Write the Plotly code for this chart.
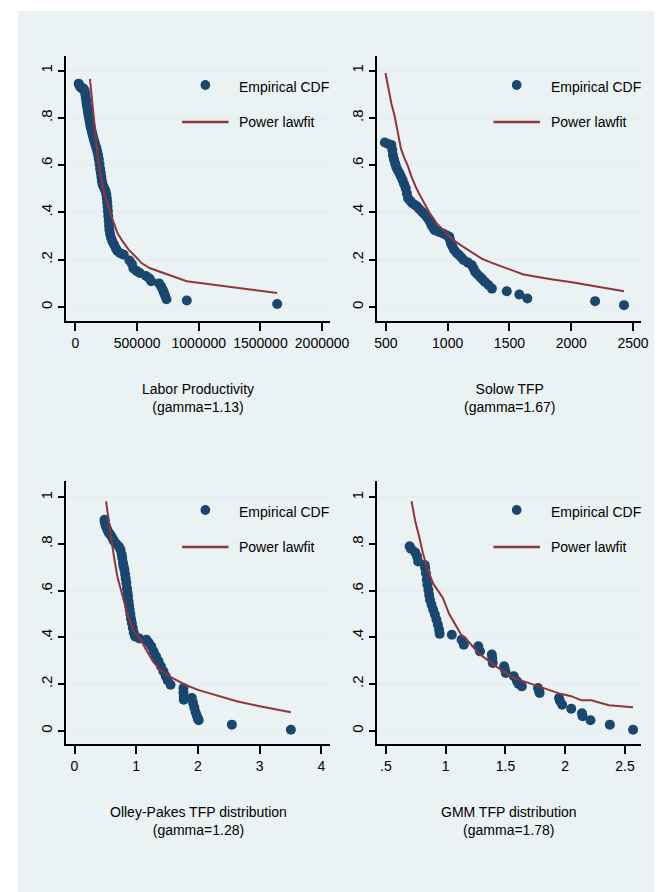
import plotly.graph_objects as go

# ---------------- data ----------------
# Panel 1: Labor Productivity (gamma=1.13)
lp_emp_x = [26000, 32000, 40000, 52000, 65000, 75000, 80000, 84000, 88000, 92000, 96000, 100000,
            104000, 108000, 113000, 117000, 122000, 128000, 134000, 141000, 149000, 158000, 168000,
            176000, 183000, 189000, 195000, 200000, 205000, 210000, 215000, 220000, 232000, 243000,
            250000, 254000, 257000, 260000, 263000, 266000, 269000, 272000, 275000, 280000, 288000,
            298000, 312000, 326000, 340000, 362000, 392000, 438000, 458000, 470000, 497000, 522000,
            572000, 600000, 614000, 678000, 694000, 707000, 717000, 726000, 738000, 903000, 1636000]
lp_emp_y = [0.945, 0.938, 0.93, 0.925, 0.924, 0.915, 0.90, 0.885, 0.87, 0.855, 0.843, 0.83,
            0.818, 0.805, 0.792, 0.78, 0.765, 0.752, 0.738, 0.724, 0.708, 0.692, 0.676,
            0.66, 0.643, 0.625, 0.605, 0.585, 0.568, 0.55, 0.532, 0.518, 0.505, 0.492,
            0.477, 0.46, 0.443, 0.425, 0.405, 0.385, 0.365, 0.345, 0.327, 0.31, 0.294,
            0.279, 0.265, 0.25, 0.237, 0.228, 0.221, 0.197, 0.182, 0.163, 0.152, 0.144,
            0.131, 0.121, 0.109, 0.10, 0.088, 0.074, 0.062, 0.05, 0.033, 0.028, 0.013]
lp_fit_x = [117000, 135000, 157000, 170000, 183000, 200000, 222000, 235000, 261000, 280000, 300000,
            314000, 340000, 380000, 431000, 480000, 536000, 600000, 693000, 780000, 902000, 1636000]
lp_fit_y = [0.965, 0.87, 0.78, 0.70, 0.625, 0.57, 0.52, 0.478, 0.435, 0.40, 0.369,
            0.352, 0.313, 0.28, 0.243, 0.217, 0.186, 0.165, 0.147, 0.13, 0.109, 0.059]

# Panel 2: Solow TFP (gamma=1.67)
so_emp_x = [492, 520, 544, 552, 557, 565, 575, 583, 595, 610, 622, 635, 648, 661, 670, 680, 697,
            714, 735, 753, 772, 792, 812, 831, 845, 857, 870, 885, 896, 930, 962, 990, 1013, 1020,
            1027, 1040, 1053, 1072, 1092, 1110, 1131, 1165, 1196, 1210, 1222, 1240, 1261, 1280,
            1300, 1330, 1358, 1478, 1580, 1645, 2193, 2427]
so_emp_y = [0.696, 0.69, 0.686, 0.665, 0.643, 0.625, 0.608, 0.594, 0.58, 0.566, 0.552, 0.537,
            0.52, 0.502, 0.48, 0.46, 0.45, 0.439, 0.432, 0.425, 0.414, 0.403, 0.393, 0.382,
            0.372, 0.361, 0.345, 0.333, 0.325, 0.318, 0.311, 0.304, 0.297, 0.283, 0.269, 0.255,
            0.241, 0.23, 0.22, 0.21, 0.198, 0.188, 0.177, 0.163, 0.149, 0.139, 0.128, 0.118,
            0.107, 0.093, 0.078, 0.067, 0.053, 0.036, 0.025, 0.008]
so_fit_x = [497, 520, 545, 570, 595, 622, 650, 675, 705, 740, 779, 820, 857, 910, 962, 1030,
            1105, 1170, 1275, 1353, 1440, 1535, 1613, 1692, 1850, 2005, 2200, 2427]
so_fit_y = [0.99, 0.925, 0.86, 0.81, 0.74, 0.67, 0.63, 0.60, 0.555, 0.51, 0.47, 0.43, 0.395,
            0.355, 0.328, 0.29, 0.262, 0.24, 0.205, 0.188, 0.17, 0.153, 0.138, 0.13, 0.117,
            0.105, 0.088, 0.067]

# Panel 3: Olley-Pakes TFP distribution (gamma=1.28)
op_emp_x = [0.486, 0.49, 0.5, 0.511, 0.53, 0.55, 0.575, 0.6, 0.625, 0.643, 0.68, 0.72, 0.745,
            0.765, 0.773, 0.785, 0.795, 0.809, 0.82, 0.83, 0.84, 0.85, 0.858, 0.867, 0.875, 0.885,
            0.893, 0.905, 0.915, 0.929, 0.945, 0.96, 0.981, 1.05, 1.165, 1.2, 1.243, 1.28, 1.321,
            1.36, 1.40, 1.44, 1.478, 1.51, 1.556, 1.765, 1.765, 1.77, 1.77, 1.9, 1.92, 1.94, 1.96,
            1.98, 2.0, 2.011, 2.549, 3.505]
op_emp_y = [0.904, 0.895, 0.885, 0.875, 0.862, 0.85, 0.842, 0.832, 0.82, 0.811, 0.80, 0.788,
            0.775, 0.755, 0.74, 0.72, 0.705, 0.69, 0.67, 0.652, 0.633, 0.61, 0.592, 0.576,
            0.555, 0.535, 0.518, 0.50, 0.48, 0.461, 0.44, 0.42, 0.404, 0.395, 0.39, 0.378,
            0.362, 0.34, 0.319, 0.298, 0.276, 0.255, 0.233, 0.215, 0.197, 0.183, 0.165, 0.148,
            0.133, 0.14, 0.12, 0.10, 0.08, 0.065, 0.052, 0.045, 0.026, 0.004]
op_fit_x = [0.511, 0.55, 0.589, 0.643, 0.694, 0.773, 0.87, 0.956, 1.06, 1.165, 1.27, 1.373,
            1.48, 1.583, 1.792, 2.0, 2.25, 2.627, 3.0, 3.505]
op_fit_y = [0.983, 0.90, 0.833, 0.74, 0.661, 0.583, 0.49, 0.43, 0.395, 0.345, 0.297, 0.265,
            0.243, 0.226, 0.197, 0.175, 0.155, 0.126, 0.105, 0.079]

# Panel 4: GMM TFP distribution (gamma=1.78)
gm_emp_x = [0.699, 0.71, 0.745, 0.761, 0.77, 0.825, 0.829, 0.835, 0.842, 0.848, 0.856, 0.862,
            0.869, 0.882, 0.896, 0.91, 0.923, 0.935, 0.945, 0.95, 1.052, 1.133, 1.152, 1.273,
            1.287, 1.386, 1.39, 1.394, 1.489, 1.495, 1.503, 1.57, 1.597, 1.61, 1.637, 1.772,
            1.78, 1.786, 1.948, 1.955, 1.974, 2.05, 2.14, 2.145, 2.211, 2.373, 2.567]
gm_emp_y = [0.79, 0.78, 0.765, 0.747, 0.725, 0.71, 0.697, 0.675, 0.647, 0.625, 0.604, 0.582,
            0.561, 0.54, 0.518, 0.498, 0.476, 0.455, 0.433, 0.415, 0.411, 0.39, 0.368, 0.362,
            0.34, 0.326, 0.31, 0.29, 0.276, 0.262, 0.247, 0.233, 0.212, 0.20, 0.19, 0.183,
            0.172, 0.162, 0.14, 0.128, 0.111, 0.094, 0.075, 0.062, 0.045, 0.026, 0.004]
gm_fit_x = [0.715, 0.745, 0.775, 0.81, 0.85, 0.896, 0.977, 1.03, 1.139, 1.166, 1.273, 1.408,
            1.57, 1.651, 1.732, 1.813, 1.96, 2.05, 2.136, 2.217, 2.365, 2.567]
gm_fit_y = [0.983, 0.90, 0.84, 0.76, 0.69, 0.63, 0.569, 0.50, 0.404, 0.397, 0.333, 0.28,
            0.226, 0.212, 0.195, 0.183, 0.158, 0.148, 0.13, 0.13, 0.109, 0.10]

# tick labels / titles
y_tickvals = [0, 0.2, 0.4, 0.6, 0.8, 1]
y_ticktext = ["0", ".2", ".4", ".6", ".8", "1"]
lp_xticks = [0, 500000, 1000000, 1500000, 2000000]
lp_xtext = ["0", "500000", "1000000", "1500000", "2000000"]
so_xticks = [500, 1000, 1500, 2000, 2500]
so_xtext = ["500", "1000", "1500", "2000", "2500"]
op_xticks = [0, 1, 2, 3, 4]
op_xtext = ["0", "1", "2", "3", "4"]
gm_xticks = [0.5, 1, 1.5, 2, 2.5]
gm_xtext = [".5", "1", "1.5", "2", "2.5"]
titles = ["Labor Productivity<br>(gamma=1.13)", "Solow TFP<br>(gamma=1.67)",
          "Olley-Pakes TFP distribution<br>(gamma=1.28)", "GMM TFP distribution<br>(gamma=1.78)"]
legend_names = ["Empirical CDF", "Power lawfit"]

# ---------------- style ----------------
W, H = 665, 892
FONT = "Liberation Sans, Arial, sans-serif"
FS = 14
BG = "#EAF2F3"
GRID = "#E6EEF1"
NAVY = "#1A476F"
MAROON = "#90353B"

def px_x(p):
    return p / W

def px_y(p):
    return 1 - p / H

panels = [
    dict(ex=lp_emp_x, ey=lp_emp_y, fx=lp_fit_x, fy=lp_fit_y, xr=[-76000, 2065000],
         yr=[-0.059, 1.062], xt=lp_xticks, xtt=lp_xtext, dom_x=(57, 330), dom_y=(48, 313)),
    dict(ex=so_emp_x, ey=so_emp_y, fx=so_fit_x, fy=so_fit_y, xr=[432, 2568],
         yr=[-0.059, 1.062], xt=so_xticks, xtt=so_xtext, dom_x=(379, 652), dom_y=(48, 313)),
    dict(ex=op_emp_x, ey=op_emp_y, fx=op_fit_x, fy=op_fit_y, xr=[-0.136, 4.14],
         yr=[-0.057, 1.07], xt=op_xticks, xtt=op_xtext, dom_x=(57, 330), dom_y=(473, 736)),
    dict(ex=gm_emp_x, ey=gm_emp_y, fx=gm_fit_x, fy=gm_fit_y, xr=[0.43, 2.637],
         yr=[-0.057, 1.07], xt=gm_xticks, xtt=gm_xtext, dom_x=(379, 652), dom_y=(473, 736)),
]

fig = go.Figure()
layout = dict(
    width=W, height=H, margin=dict(l=0, r=0, t=0, b=0),
    paper_bgcolor="white", plot_bgcolor="white",
    font=dict(family=FONT, size=FS, color="black"),
    showlegend=False, shapes=[], annotations=[],
)
layout["shapes"].append(dict(type="rect", xref="paper", yref="paper", x0=7 / W, x1=1,
                             y0=0, y1=1 - 3 / H, fillcolor=BG, line=dict(width=0), layer="below"))

for i, p in enumerate(panels):
    n = "" if i == 0 else str(i + 1)
    fig.add_trace(go.Scatter(x=p["ex"], y=p["ey"], mode="markers", name=legend_names[0],
                             marker=dict(color=NAVY, size=10, line=dict(width=0)),
                             xaxis="x" + n, yaxis="y" + n))
    fig.add_trace(go.Scatter(x=p["fx"], y=p["fy"], mode="lines", name=legend_names[1],
                             line=dict(color=MAROON, width=2),
                             xaxis="x" + n, yaxis="y" + n))
    layout["xaxis" + n] = dict(
        domain=[px_x(p["dom_x"][0]), px_x(p["dom_x"][1])], anchor="y" + n,
        range=p["xr"], tickvals=p["xt"], ticktext=p["xtt"], showgrid=False, zeroline=False,
        showline=True, linecolor="black", linewidth=2, ticks="outside", ticklen=8,
        tickwidth=1.5, tickcolor="black", tickfont=dict(size=FS), fixedrange=True)
    layout["yaxis" + n] = dict(
        domain=[px_y(p["dom_y"][1]), px_y(p["dom_y"][0])], anchor="x" + n,
        range=p["yr"], tickvals=y_tickvals, ticktext=y_ticktext, tickangle=-90,
        showgrid=True, gridcolor=GRID, gridwidth=2, zeroline=False,
        showline=True, linecolor="black", linewidth=2, ticks="outside", ticklen=6,
        tickwidth=1.5, tickcolor="black", tickfont=dict(size=FS + 1), fixedrange=True)
    cx = (p["dom_x"][0] + p["dom_x"][1]) / 2
    layout["annotations"].append(dict(
        text=titles[i], xref="paper", yref="paper", x=px_x(cx), y=px_y(p["dom_y"][1] + 77),
        xanchor="center", yanchor="middle", showarrow=False, font=dict(size=FS)))

    # legend drawn inside each panel (key symbols + labels)
    x0, y0 = p["dom_x"][0], p["dom_y"][0]
    mx, my = x0 + 144, y0 + 29
    layout["shapes"].append(dict(type="circle", xref="paper", yref="paper",
                                 x0=px_x(mx - 5), x1=px_x(mx + 5), y0=px_y(my + 5), y1=px_y(my - 5),
                                 fillcolor=NAVY, line=dict(width=0)))
    ly = y0 + 66
    layout["shapes"].append(dict(type="line", xref="paper", yref="paper",
                                 x0=px_x(x0 + 120), x1=px_x(x0 + 168), y0=px_y(ly), y1=px_y(ly),
                                 line=dict(color=MAROON, width=2.5)))
    for txt, ty in ((legend_names[0], y0 + 31), (legend_names[1], ly)):
        layout["annotations"].append(dict(
            text=txt, xref="paper", yref="paper", x=px_x(x0 + 177), y=px_y(ty),
            xanchor="left", yanchor="middle", showarrow=False, font=dict(size=FS)))

fig.update_layout(**layout)
fig.write_html("out.html")
